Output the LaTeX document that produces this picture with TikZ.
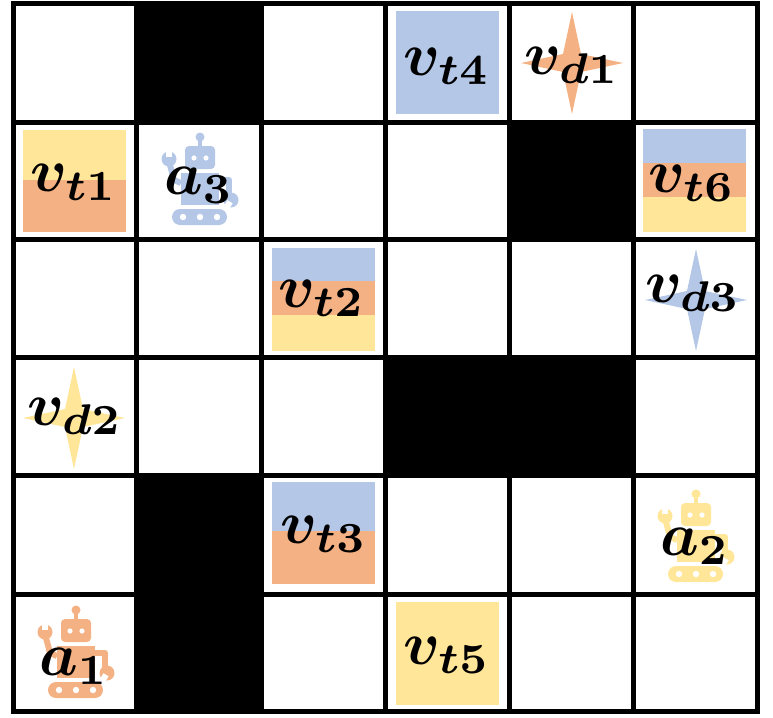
\documentclass[tikz,border=0pt]{standalone}
\usepackage{bm}
\definecolor{agentblue}{HTML}{B4C7E7}
\definecolor{agentorange}{HTML}{F4B183}
\definecolor{agentyellow}{HTML}{FFE699}
\newcommand{\lbl}[2]{$\bm{#1}_{\bm{#2}}$}
\tikzset{
  starshape/.pic={
    \fill (-51,0) -- (-9,-9) -- (0,-51) -- (9,-9) -- (51,0) -- (9,9) -- (0,51) -- (-9,9) -- cycle;
  },
  robot/.pic={
    \fill (0,-44) circle (4.5);
    \fill (-2,-44) rectangle (2,-34);
    \fill[rounded corners=3pt] (-15,-35) rectangle (15,-12);
    \fill[white] (-6,-23) circle (2.6) (6,-23) circle (2.6);
    \fill (-19,-8) rectangle (19,24);
    \fill[rounded corners=6pt] (-28,28) rectangle (27,44);
    \fill[white] (-17,36) circle (3.2) (0,36) circle (3.2) (17,36) circle (3.2);
    \draw[line width=4.5pt,line join=round] (-19,2) -- (-26,-1) -- (-31,-20);
    \fill (-31,-22) circle (7.5);
    \fill[white] (-34,-31) rectangle (-28,-24);
    \draw[line width=4.5pt,line join=round] (19,-1) -- (29,-1) -- (29,14);
    \fill (31,19) circle (7.5);
    \fill[white,rotate around={-30:(31,19)}] (28,21) rectangle (34,28);
  }
}
\begin{document}
\begin{tikzpicture}[x=0.75pt,y=-0.75pt]
  \useasboundingbox (0,0) rectangle (773,717);

  % blocked cells
  \begin{scope}[every path/.style={fill=black}]
    \path (136,4)   rectangle (261,122);
    \path (509,122) rectangle (633,239);
    \path (385,357) rectangle (633,475);
    \path (136,475) rectangle (261,711);
  \end{scope}

  % task squares
  \fill[agentblue]   (396,11)  rectangle (499,114);
  \fill[agentyellow] (23,130)  rectangle (126,180);
  \fill[agentorange] (23,180)  rectangle (126,232);
  \fill[agentblue]   (643,129) rectangle (746,163);
  \fill[agentorange] (643,163) rectangle (746,197);
  \fill[agentyellow] (643,197) rectangle (746,232);
  \fill[agentblue]   (272,248) rectangle (375,281);
  \fill[agentorange] (272,281) rectangle (375,315);
  \fill[agentyellow] (272,315) rectangle (375,351);
  \fill[agentblue]   (272,482) rectangle (375,531);
  \fill[agentorange] (272,531) rectangle (375,584);
  \fill[agentyellow] (396,602) rectangle (499,705);

  % depots
  \pic[agentorange] at (572,63)  {starshape};
  \pic[agentblue]   at (696,300) {starshape};
  \pic[agentyellow] at (74,418)  {starshape};

  % agents
  \pic[agentorange] at (76,654)  {robot};
  \pic[agentblue]   at (200,181) {robot};
  \pic[agentyellow] at (696,538) {robot};

  % grid lines
  \foreach \x in {13,136,261,385,509,633,757}
    \draw[line width=3.75pt,line cap=rect] (\x,4) -- (\x,711);
  \foreach \y in {4,122,239,357,475,594,711}
    \draw[line width=3.75pt,line cap=rect] (13,\y) -- (757,\y);

  \begin{scope}[every node/.style={inner sep=0pt,text=black,scale=4.6}]
    \node (vt4) at (447,66)  {\lbl{v}{t4}};
    \node (vd1) at (572,65)  {\lbl{v}{d1}};
    \node (vt1) at (74,182)  {\lbl{v}{t1}};
    \node (a3)  at (199,185) {\lbl{a}{3}};
    \node (vt6) at (692,183) {\lbl{v}{t6}};
    \node (vt2) at (322,298) {\lbl{v}{t2}};
    \node (vd3) at (693,293) {\lbl{v}{d3}};
    \node (vd2) at (75,416)  {\lbl{v}{d2}};
    \node (vt3) at (324,534) {\lbl{v}{t3}};
    \node (a2)  at (695,546) {\lbl{a}{2}};
    \node (a1)  at (74,666)  {\lbl{a}{1}};
    \node (vt5) at (447,655) {\lbl{v}{t5}};
  \end{scope}
\end{tikzpicture}
\end{document}
